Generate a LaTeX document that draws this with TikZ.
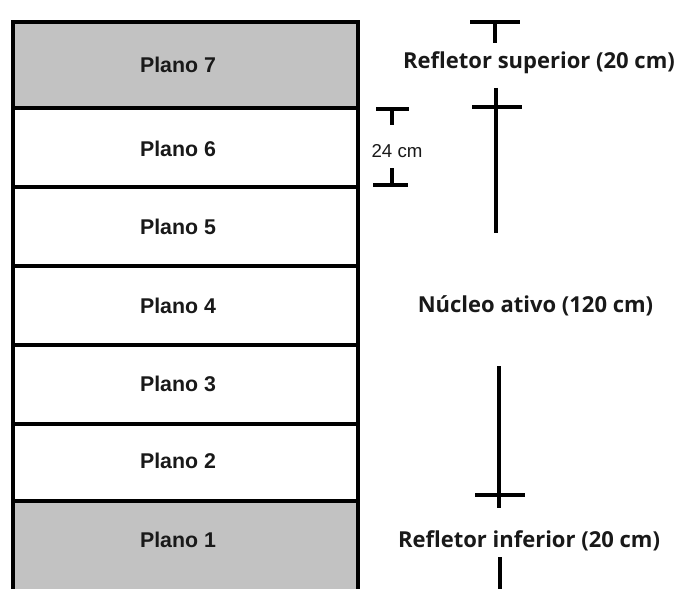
\documentclass[tikz,border=0pt]{standalone}
\usepackage{fontspec}
\setmainfont{Liberation Sans}
\newfontfamily\labfont{Open Sans}
\begin{document}
\begin{tikzpicture}[x=0.75pt,y=-0.75pt,
  layer/.style={draw=black,line width=3pt,minimum width=345*0.75pt,inner sep=0pt},
  reflector/.style={layer,fill=black!24},
  core/.style={layer,fill=white},
  ptext/.style={font=\fontsize{16}{18}\selectfont\bfseries,text=black!90,inner sep=0pt},
  dim/.style={line width=2.7pt,black},
  lab/.style={font=\labfont\fontsize{16.5}{19}\selectfont\bfseries,text=black!90,inner sep=0pt}]
\useasboundingbox (0,0) rectangle (680,588);
\clip (0,0) rectangle (680,588);
% stack
\node[reflector,minimum height=86*0.75pt] (p7) at (185,65) {};
\node[core,minimum height=79*0.75pt] (p6) at (185,147.5) {};
\node[core,minimum height=79*0.75pt] (p5) at (185,226.5) {};
\node[core,minimum height=79*0.75pt] (p4) at (185,305.5) {};
\node[core,minimum height=79*0.75pt] (p3) at (185,384.5) {};
\node[core,minimum height=77*0.75pt] (p2) at (185,462.5) {};
\node[reflector,minimum height=96*0.75pt] (p1) at (185,549) {};
\node[ptext] (p7t) at (178,65) {Plano 7};
\node[ptext] (p6t) at (178,149) {Plano 6};
\node[ptext] (p5t) at (178,227) {Plano 5};
\node[ptext] (p4t) at (178,306) {Plano 4};
\node[ptext] (p3t) at (178,384) {Plano 3};
\node[ptext] (p2t) at (178,461) {Plano 2};
\node[ptext] (p1t) at (178,540) {Plano 1};
% 24 cm bracket
\coordinate (a1) at (376,109); \coordinate (a2) at (409,109);
\coordinate (a3) at (392,109); \coordinate (a4) at (392,125);
\coordinate (b1) at (373,185); \coordinate (b2) at (408,185);
\coordinate (b3) at (392,168); \coordinate (b4) at (392,185);
\draw[dim] (a1) -- (a2);
\draw[dim] (a3) -- (a4);
\draw[dim] (b1) -- (b2);
\draw[dim] (b3) -- (b4);
\node[font=\fontsize{14}{16}\selectfont,text=black!90,inner sep=0pt] (d24) at (397,151) {24 cm};
% right dimension line
\coordinate (t1) at (470,22); \coordinate (t2) at (520,22);
\coordinate (t3) at (495,22); \coordinate (t4) at (495,43);
\coordinate (c1) at (472,107); \coordinate (c2) at (522,107);
\coordinate (c3) at (496,88); \coordinate (c4) at (496,233);
\coordinate (e1) at (475,495); \coordinate (e2) at (525,495);
\coordinate (e3) at (499,366); \coordinate (e4) at (499,508);
\coordinate (f3) at (500,557); \coordinate (f4) at (500,592);
\draw[dim] (t1) -- (t2);
\draw[dim] (t3) -- (t4);
\draw[dim] (c1) -- (c2);
\draw[dim] (c3) -- (c4);
\draw[dim] (e1) -- (e2);
\draw[dim] (e3) -- (e4);
\draw[dim] (f3) -- (f4);
\node[lab] (rs) at (539,63) {Refletor superior (20 cm)};
\node[lab] (na) at (535.5,306) {Núcleo ativo (120 cm)};
\node[lab] (ri) at (529,541) {Refletor inferior (20 cm)};
\end{tikzpicture}
\end{document}
